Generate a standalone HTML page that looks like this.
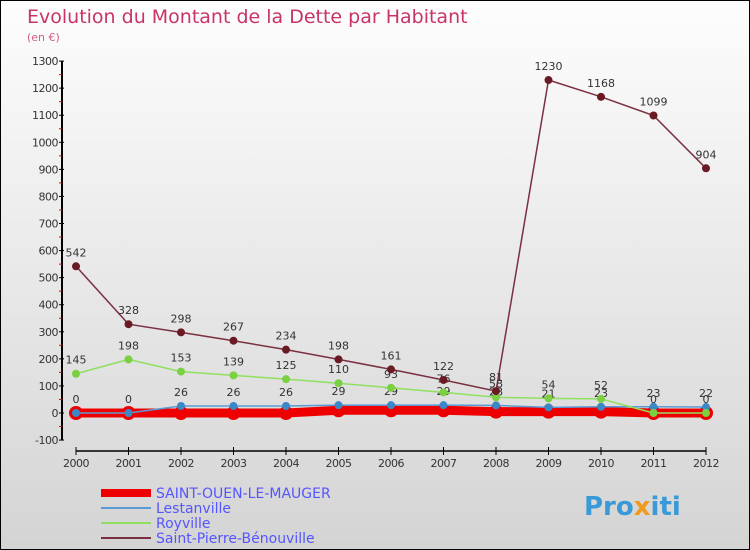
<!DOCTYPE html>
<html><head><meta charset="utf-8"><style>
body{margin:0}
#c{width:750px;height:550px;position:relative;overflow:hidden;font-family:"DejaVu Sans","Liberation Sans",sans-serif;background:linear-gradient(#fdfdfd,#d4d4d4);border:1px solid #000;box-sizing:border-box}
</style></head><body>
<div id="c">
<svg id="s" width="750" height="550"></svg>
</div>
<script>
const years=["2000","2001","2002","2003","2004","2005","2006","2007","2008","2009","2010","2011","2012"];
const yTicks=[-100,0,100,200,300,400,500,600,700,800,900,1000,1100,1200,1300];
const saintOuen=[0,0,0,0,0,10,10,10,5,5,5,0,0];
const lestanville=[0,0,26,26,26,29,29,29,28,21,23,23,22];
const royville=[145,198,153,139,125,110,93,76,58,54,52,0,0];
const saintPierre=[542,328,298,267,234,198,161,122,81,1230,1168,1099,904];
const NS="http://www.w3.org/2000/svg";
const s=document.getElementById('s');
function X(i){return 75+i*52.5;}
function Y(v){return 412-v*0.2707;}
function el(t,a,p){const e=document.createElementNS(NS,t);for(const k in a)e.setAttribute(k,a[k]);(p||s).appendChild(e);return e;}
let t=el('text',{x:26,y:22,fill:'#c8336a','font-size':19});t.textContent='Evolution du Montant de la Dette par Habitant';

t=el('text',{x:26,y:40,fill:'#d0608a','font-size':11});t.textContent='(en €)';

let ax=el('line',{x1:61,y1:Y(1300),x2:61,y2:Y(-100),stroke:'#000','stroke-width':2});

yTicks.forEach(v=>{el('line',{x1:58,x2:63,y1:Y(v),y2:Y(v),stroke:'#000'});
 if(v<1300)el('line',{x1:58,x2:61,y1:Y(v+50),y2:Y(v+50),stroke:'#e00'});
 const tt=el('text',{x:57,y:Y(v)+4,'text-anchor':'end','font-size':11,fill:'#333','letter-spacing':'-0.5'});tt.textContent=v;
 });
ax=el('line',{x1:75,y1:450,x2:705,y2:450,stroke:'#000','stroke-width':1.5});

years.forEach((y,i)=>{el('line',{x1:X(i),x2:X(i),y1:446,y2:454,stroke:'#000'});
 const tt=el('text',{x:X(i),y:466,'text-anchor':'middle','font-size':11,fill:'#333','letter-spacing':'-0.5'});tt.textContent=y;
 });
function series(d,col,w,r,dot,name,labels){
 const g=el('g',{});
 el('polyline',{points:d.map((v,i)=>X(i)+','+Y(v)).join(' '),fill:'none',stroke:col,'stroke-width':w},g);
 d.forEach((v,i)=>{const c=el('circle',{cx:X(i),cy:Y(v),r:r,fill:dot},g);
  if(labels){const tt=el('text',{x:X(i),y:Y(v)-10,'text-anchor':'middle','font-size':11,fill:'#333'},g);tt.textContent=v;}});
}
series(saintOuen,'#ee0000',9,7,'#ee0000','series-saint-ouen',false);
series(lestanville,'#5b9bd5',1.5,4,'#3b88c8','series-lestanville',true);
series(royville,'#90e060',1.5,4,'#7ad040','series-royville',true);
series(saintPierre,'#7a3040',1.5,4,'#6a1a22','series-saint-pierre',true);
const leg=[['SAINT-OUEN-LE-MAUGER','#ee0000',8],['Lestanville','#5b9bd5',2],['Royville','#90e060',2],['Saint-Pierre-Bénouville','#7a3040',2]];
leg.forEach((l,i)=>{const g=el('g',{});
 const y=492+i*15;el('line',{x1:100,x2:150,y1:y,y2:y,stroke:l[1],'stroke-width':l[2]},g);
 const tt=el('text',{x:155,y:y+5,'font-size':14,fill:'#5555ff'},g);tt.textContent=l[0];});
t=el('text',{x:583,y:514,'font-size':26,'font-weight':'bold',fill:'#3a9ad8'});t.innerHTML='Pro<tspan fill="#f29a1e">x</tspan>iti';

</script>
</body></html>
